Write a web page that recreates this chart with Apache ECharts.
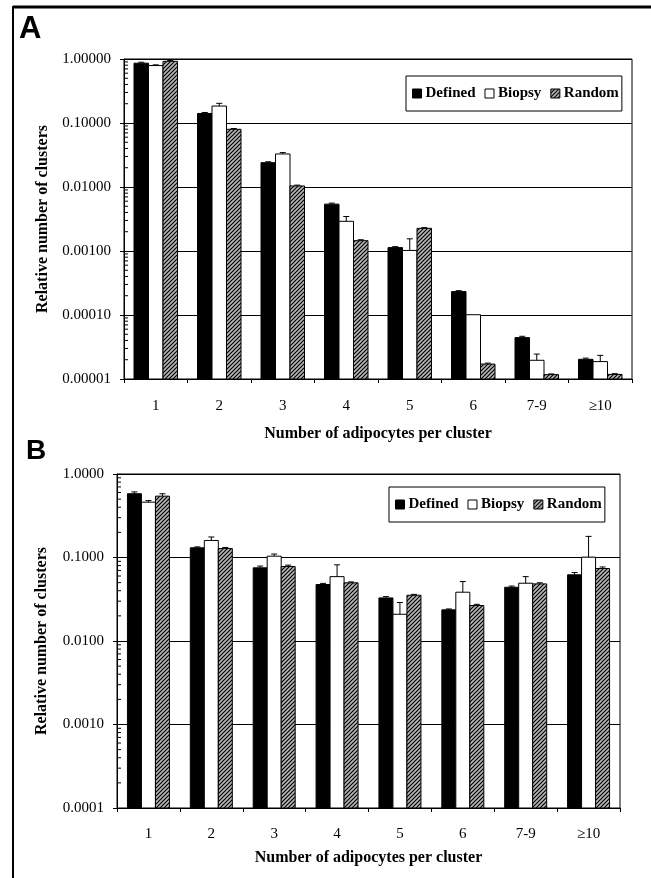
<!DOCTYPE html>
<html><head><meta charset="utf-8">
<script src="https://cdn.jsdelivr.net/npm/echarts@6/dist/echarts.min.js"></script>
<style>html,body{margin:0;padding:0;background:#fff}#c{width:651px;height:878px}</style>
</head><body><div id="c"></div>
<script>
const categories = ['1', '2', '3', '4', '5', '6', '7-9', '≥10'];
const seriesNames = ['Defined', 'Biopsy', 'Random'];

// Panel A values and upper error-bar ends
const definedA    = [0.86, 0.141, 0.024, 0.0054, 0.00113, 0.000232, 0.0000443, 0.0000203];
const definedAErr = [0.89, 0.146, 0.0248, 0.0056, 0.00117, 0.000240, 0.0000465, 0.0000212];
const biopsyA     = [0.79, 0.184, 0.0328, 0.00291, 0.00102, 0.000101, 0.0000196, 0.0000187];
const biopsyAErr  = [0.81, 0.203, 0.0345, 0.00346, 0.00155, 0.000101, 0.0000245, 0.0000234];
const randomA     = [0.92, 0.0797, 0.0104, 0.00145, 0.00226, 0.0000171, 0.0000117, 0.0000118];
const randomAErr  = [0.95, 0.082, 0.0107, 0.0015, 0.00232, 0.0000177, 0.0000120, 0.0000121];

// Panel B values and upper error-bar ends
const definedB    = [0.58, 0.1306, 0.0752, 0.0475, 0.0328, 0.0236, 0.044, 0.062];
const definedBErr = [0.61, 0.134, 0.079, 0.049, 0.034, 0.0242, 0.0455, 0.066];
const biopsyB     = [0.46, 0.16, 0.1037, 0.059, 0.0209, 0.0384, 0.0492, 0.101];
const biopsyBErr  = [0.48, 0.176, 0.11, 0.0817, 0.0289, 0.0515, 0.059, 0.179];
const randomB     = [0.543, 0.128, 0.078, 0.0497, 0.0353, 0.0266, 0.0483, 0.0738];
const randomBErr  = [0.58, 0.132, 0.081, 0.051, 0.0362, 0.0275, 0.0498, 0.077];

const yMinA = 0.00001, yMaxA = 1, yDecimalsA = 5;
const yMinB = 0.0001,  yMaxB = 1, yDecimalsB = 4;
const xTitle = 'Number of adipocytes per cluster';
const yTitle = 'Relative number of clusters';

const SERIF = '"Liberation Serif", "Times New Roman", serif';

function makeHatch() {
  const c = document.createElement('canvas');
  c.width = 4; c.height = 4;
  const g = c.getContext('2d');
  g.fillStyle = '#b8b8b8'; g.fillRect(0, 0, 4, 4);
  g.strokeStyle = '#000'; g.lineWidth = 1.2;
  g.beginPath();
  g.moveTo(0, 4); g.lineTo(4, 0);
  g.moveTo(-1, 1); g.lineTo(1, -1);
  g.moveTo(3, 5); g.lineTo(5, 3);
  g.stroke();
  return c;
}
const hatch = { image: makeHatch(), repeat: 'repeat' };
const fills = ['#000', '#fff', hatch];

const chart = echarts.init(document.getElementById('c'), null, { renderer: 'canvas' });

function barRenderer(k, bw) {
  return function (params, api) {
    const cat = api.value(0), v = api.value(1), err = api.value(2);
    const cs = params.coordSys;
    const top = api.coord([cat, v]);
    const cx = top[0] + (k - 1) * bw;
    const bottomY = cs.y + cs.height;
    const errY = api.coord([cat, err])[1];
    const children = [{
      type: 'rect',
      shape: { x: cx - bw / 2, y: top[1], width: bw, height: bottomY - top[1] },
      style: { fill: fills[k], stroke: '#000', lineWidth: 1 }
    }];
    if (errY < top[1] - 0.5) {
      children.push({ type: 'line', shape: { x1: cx, y1: top[1], x2: cx, y2: errY }, style: { stroke: '#000', lineWidth: 1 } });
      children.push({ type: 'line', shape: { x1: cx - 3, y1: errY, x2: cx + 3, y2: errY }, style: { stroke: '#000', lineWidth: 1 } });
    }
    return { type: 'group', children };
  };
}

function minorTickValues(min, max) {
  const out = [];
  for (let d = min; d < max * 0.999; d *= 10) {
    for (let m = 2; m <= 9; m++) out.push([0, d * m]);
  }
  return out;
}

function minorTickSeries(idx, min, max) {
  return {
    type: 'custom', xAxisIndex: idx, yAxisIndex: idx, silent: true, z: 5,
    data: minorTickValues(min, max),
    renderItem: function (params, api) {
      const cs = params.coordSys;
      const y = api.coord([0, api.value(1)])[1];
      return { type: 'line', shape: { x1: cs.x, y1: y, x2: cs.x + 4, y2: y }, style: { stroke: '#000', lineWidth: 1 } };
    }
  };
}

const panels = [
  { vals: [definedA, biopsyA, randomA], errs: [definedAErr, biopsyAErr, randomAErr], bw: 14.5 },
  { vals: [definedB, biopsyB, randomB], errs: [definedBErr, biopsyBErr, randomBErr], bw: 14 }
];

const series = [];
panels.forEach((p, idx) => {
  seriesNames.forEach((name, k) => {
    series.push({
      type: 'custom', name, xAxisIndex: idx, yAxisIndex: idx, z: 3,
      itemStyle: { color: fills[k], borderColor: '#000', borderWidth: 1 },
      data: categories.map((c, i) => [i, p.vals[k][i], p.errs[k][i]]),
      renderItem: barRenderer(k, p.bw)
    });
  });
  series.push(minorTickSeries(idx, idx === 0 ? yMinA : yMinB, idx === 0 ? yMaxA : yMaxB));
});

function legendCfg(left, top) {
  return {
    left, top, orient: 'horizontal', icon: 'rect', itemWidth: 9, itemHeight: 9, itemGap: 9,
    borderColor: '#000', borderWidth: 1, padding: [10, 3, 10, 6], selectedMode: false,
    textStyle: { fontFamily: SERIF, fontWeight: 'bold', fontSize: 15, color: '#000', padding: [0, 0, 0, -1] },
    data: seriesNames.map((n, k) => ({ name: n, itemStyle: { color: fills[k], borderColor: '#000', borderWidth: 1 } }))
  };
}

function xAxisCfg(idx, margin, gap) {
  return {
    type: 'category', gridIndex: idx, data: categories,
    axisLine: { lineStyle: { color: '#000', width: 1 } },
    axisTick: { show: true, length: 4, lineStyle: { color: '#000' } },
    axisLabel: { color: '#000', fontFamily: SERIF, fontSize: 15, margin },
    name: xTitle, nameLocation: 'middle', nameGap: gap,
    nameTextStyle: { color: '#000', fontFamily: SERIF, fontWeight: 'bold', fontSize: 16 }
  };
}

function yAxisCfg(idx, min, max, dec, margin, gap) {
  return {
    type: 'log', logBase: 10, gridIndex: idx, min, max, interval: 1,
    axisLine: { show: true, lineStyle: { color: '#000', width: 1 } },
    axisTick: { show: true, length: 4, lineStyle: { color: '#000' } },
    axisLabel: { color: '#000', fontFamily: SERIF, fontSize: 15, margin, formatter: v => Number(v).toFixed(dec) },
    splitLine: { show: true, lineStyle: { color: '#000', width: 1 } },
    name: yTitle, nameLocation: 'middle', nameGap: gap, nameRotate: 90,
    nameTextStyle: { color: '#000', fontFamily: SERIF, fontWeight: 'bold', fontSize: 16 }
  };
}

chart.setOption({
  animation: false,
  backgroundColor: '#fff',
  grid: [
    { left: 124, top: 59, width: 508, height: 320, show: true, borderColor: '#000', borderWidth: 1, backgroundColor: 'transparent' },
    { left: 117, top: 474, width: 503, height: 334, show: true, borderColor: '#000', borderWidth: 1, backgroundColor: 'transparent' }
  ],
  legend: [legendCfg(406, 76), legendCfg(389, 487)],
  xAxis: [xAxisCfg(0, 20, 47), xAxisCfg(1, 19, 42)],
  yAxis: [yAxisCfg(0, yMinA, yMaxA, yDecimalsA, 13, 73), yAxisCfg(1, yMinB, yMaxB, yDecimalsB, 13, 67)],
  series,
  graphic: [
    { type: 'line', shape: { x1: 13, y1: 7, x2: 651, y2: 7 }, style: { stroke: '#000', lineWidth: 3 } },
    { type: 'line', shape: { x1: 13, y1: 6, x2: 13, y2: 878 }, style: { stroke: '#000', lineWidth: 2 } },
    { type: 'text', left: 19, top: 14, style: { text: 'A', font: '900 31px "Liberation Sans", Arial, sans-serif', fill: '#000' } },
    { type: 'text', left: 26, top: 437, style: { text: 'B', font: '900 28px "Liberation Sans", Arial, sans-serif', fill: '#000' } }
  ]
});
</script></body></html>
